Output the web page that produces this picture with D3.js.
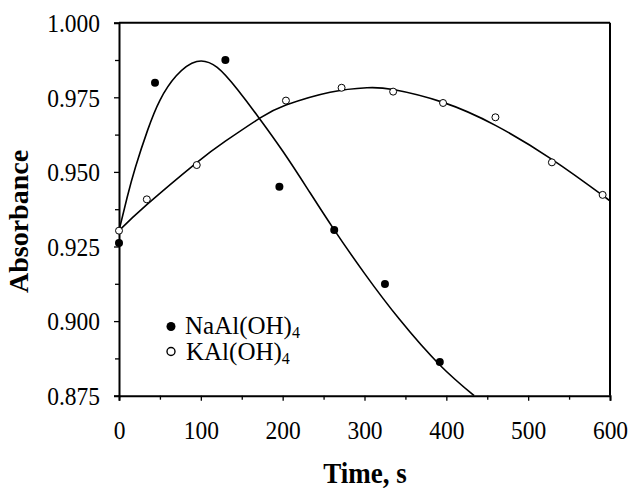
<!DOCTYPE html>
<html>
<head>
<meta charset="utf-8">
<script src="https://cdn.jsdelivr.net/npm/d3@7"></script>
<style>
  body { margin: 0; background: #fff; }
  text { font-family: "Liberation Serif", "Times New Roman", serif; fill: #000; }
</style>
</head>
<body>
<div class="container"></div>
<script>
// measured points
const naTime = [0, 44, 130, 196, 263, 325, 392];
const naAbs = [0.9262, 0.9799, 0.9875, 0.9450, 0.9305, 0.9124, 0.8863];

const kTime = [0, 34, 95, 204, 272, 335, 396, 460, 529, 591];
const kAbs = [0.9303, 0.9408, 0.9523, 0.9739, 0.9782, 0.9769, 0.9731, 0.9683, 0.9532, 0.9423];

// fitted curves
const naFitTime = [0, 10, 20, 35, 50, 70, 95, 120, 145, 170, 200, 230, 262, 300, 343, 392, 434];
const naFitAbs = [0.9303, 0.9415, 0.9515, 0.9640, 0.9740, 0.9822, 0.9870, 0.9850, 0.9775, 0.9685, 0.9570, 0.9445, 0.9310, 0.9160, 0.9005, 0.8853, 0.8750];

const kFitTime = [0, 34, 95, 130, 172, 204, 258, 303, 335, 396, 460, 529, 591, 600];
const kFitAbs = [0.9303, 0.9390, 0.9531, 0.9603, 0.9680, 0.9724, 0.9767, 0.9782, 0.9776, 0.9733, 0.9656, 0.9542, 0.9421, 0.9402];

const xTicks = [0, 100, 200, 300, 400, 500, 600];
const yTicks = [0.875, 0.900, 0.925, 0.950, 0.975, 1.000];

const w = 630, h = 488;
const mLeft = 119, mRight = 610, mTop = 22.7, mBottom = 395.7;
const stretch = 1.1;

const svg = d3.select(".container")
  .append("svg")
  .attr("width", w)
  .attr("height", h);

const x = d3.scaleLinear().domain([0, 600]).range([mLeft, mRight]);
const y = d3.scaleLinear().domain([0.875, 1.0]).range([mBottom, mTop]);

svg.append("clipPath").attr("id", "plot")
  .append("rect")
  .attr("x", mLeft).attr("y", mTop)
  .attr("width", mRight - mLeft).attr("height", mBottom - mTop);

// minor ticks
const xMinor = d3.range(50, 600, 100);
const yMinor = d3.range(0, 5).map(i => 0.8875 + i * 0.025);

const xAxis = svg.append("g")
  .attr("transform", `translate(0,${mBottom})`)
  .call(d3.axisBottom(x).tickValues(xTicks).tickSize(5).tickFormat(d3.format("d")));
svg.append("g")
  .attr("transform", `translate(0,${mBottom})`)
  .call(d3.axisBottom(x).tickValues(xMinor).tickSize(4).tickFormat(""))
  .select(".domain").remove();

const yAxis = svg.append("g")
  .attr("transform", `translate(${mLeft},0)`)
  .call(d3.axisLeft(y).tickValues(yTicks).tickSize(5).tickFormat(d3.format(".3f")));
svg.append("g")
  .attr("transform", `translate(${mLeft},0)`)
  .call(d3.axisLeft(y).tickValues(yMinor).tickSize(4).tickFormat(""))
  .select(".domain").remove();

svg.selectAll(".domain").attr("stroke-width", 2);
svg.selectAll(".tick line").attr("stroke-width", 1.3);

xAxis.selectAll("text")
  .attr("font-size", 23.5).attr("x", 0).attr("y", 0).attr("dy", 0)
  .attr("text-anchor", "middle")
  .attr("transform", `translate(0,43.6) scale(1,${stretch})`);
yAxis.selectAll("text")
  .attr("font-size", 23.5).attr("x", 0).attr("y", 0).attr("dy", 0)
  .attr("text-anchor", "end")
  .attr("transform", `translate(-19,8.7) scale(1,${stretch})`);

// frame top and right
svg.append("line")
  .attr("x1", mLeft).attr("x2", mRight).attr("y1", mTop).attr("y2", mTop)
  .attr("stroke", "#000").attr("stroke-width", 2);
svg.append("line")
  .attr("x1", mRight).attr("x2", mRight).attr("y1", mTop).attr("y2", mBottom)
  .attr("stroke", "#000").attr("stroke-width", 2);

// fitted curves
const line = d3.line()
  .x(d => x(d[0]))
  .y(d => y(d[1]))
  .curve(d3.curveNatural);

svg.append("path")
  .datum(naFitTime.map((t, i) => [t, naFitAbs[i]]))
  .attr("d", line)
  .attr("clip-path", "url(#plot)")
  .attr("fill", "none").attr("stroke", "#000").attr("stroke-width", 1.6);

svg.append("path")
  .datum(kFitTime.map((t, i) => [t, kFitAbs[i]]))
  .attr("d", line)
  .attr("clip-path", "url(#plot)")
  .attr("fill", "none").attr("stroke", "#000").attr("stroke-width", 1.6);

// markers
svg.selectAll(".na")
  .data(naTime.map((t, i) => [t, naAbs[i]]))
  .enter()
  .append("circle")
  .attr("class", "na")
  .attr("cx", d => x(d[0]))
  .attr("cy", d => y(d[1]))
  .attr("r", 4)
  .attr("fill", "#000");

svg.selectAll(".k")
  .data(kTime.map((t, i) => [t, kAbs[i]]))
  .enter()
  .append("circle")
  .attr("class", "k")
  .attr("cx", d => x(d[0]))
  .attr("cy", d => y(d[1]))
  .attr("r", 3.5)
  .attr("fill", "#fff")
  .attr("stroke", "#000")
  .attr("stroke-width", 1);

// legend
const legend = svg.append("g");
legend.append("circle").attr("cx", 171).attr("cy", 326.5).attr("r", 4.5).attr("fill", "#000");
legend.append("circle").attr("cx", 171).attr("cy", 351.5).attr("r", 4).attr("fill", "#fff")
  .attr("stroke", "#000").attr("stroke-width", 1.4);

const t1 = legend.append("text").attr("x", 185).attr("y", 333.5).attr("font-size", 25);
t1.append("tspan").text("NaAl(OH)");
t1.append("tspan").attr("font-size", 16).attr("dy", 4).text("4");

const t2 = legend.append("text").attr("x", 186).attr("y", 359.5).attr("font-size", 25);
t2.append("tspan").text("KAl(OH)");
t2.append("tspan").attr("font-size", 16).attr("dy", 4).text("4");

// axis titles
svg.append("text")
  .attr("transform", `translate(365,483) scale(1,${stretch})`)
  .attr("text-anchor", "middle")
  .attr("font-size", 27).attr("font-weight", "bold")
  .text("Time, s");

svg.append("text")
  .attr("transform", "translate(28,221.5) rotate(-90)")
  .attr("text-anchor", "middle")
  .attr("font-size", 28).attr("font-weight", "bold")
  .text("Absorbance");
</script>
</body>
</html>
